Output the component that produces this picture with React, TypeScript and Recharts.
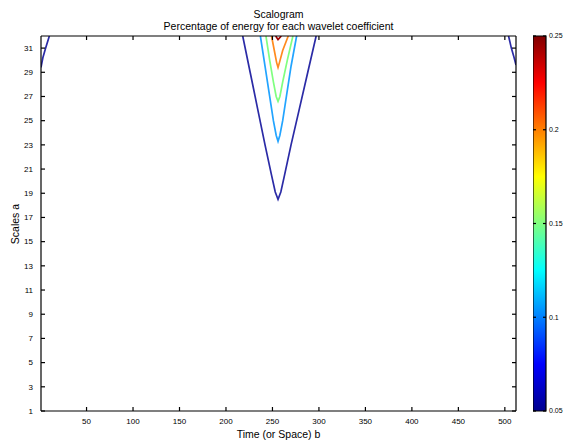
import { LineChart, Line, XAxis, YAxis, BarChart, Bar } from "recharts"

const X_TICKS = [50, 100, 150, 200, 250, 300, 350, 400, 450, 500]
const Y_TICKS = [1, 3, 5, 7, 9, 11, 13, 15, 17, 19, 21, 23, 25, 27, 29, 31]
const CBAR_TICKS = [0.05, 0.1, 0.15, 0.2, 0.25]

// contour lines, [time b, scale a]
const darkBlue = [[218, 32], [226, 29], [234, 26], [242, 23], [249, 20.5], [253, 19.1], [256, 18.5], [259, 19.1], [263, 20.5], [270, 23], [279, 26], [288, 29], [297, 32]]
const lightBlue = [[237, 32], [242, 29.5], [247, 27], [251, 25], [254, 23.8], [256, 23.3], [258, 23.8], [261, 25], [265, 27], [270, 29.5], [276, 32]]
const green = [[243, 32], [247, 30], [251, 28.2], [254, 27], [256, 26.6], [258, 27], [261, 28.2], [266, 30], [272, 32]]
const orange = [[249, 32], [252, 30.8], [254.5, 29.8], [256, 29.4], [257.5, 29.8], [261, 30.8], [267, 32]]
const darkRed = [[253.5, 32], [256, 31.7], [259.5, 32]]
const leftEdge = [[1, 29.4], [3, 30.2], [6, 31], [10, 32]]
const rightEdge = [[504, 32], [507, 31], [510, 30.2], [512, 29.6]]

const cbarData = [{ name: "c", range: [0.05, 0.25] }]

const toPts = (a: number[][]) => a.map(([x, y]) => ({ x, y }))

const contours = [
  { key: "l1", pts: darkBlue, colour: "#2b2ba6" },
  { key: "l2", pts: lightBlue, colour: "#22a4ff" },
  { key: "l3", pts: green, colour: "#80ff80" },
  { key: "l4", pts: orange, colour: "#ff8a1e" },
  { key: "l5", pts: darkRed, colour: "#a00000" },
  { key: "e1", pts: leftEdge, colour: "#2b2ba6" },
  { key: "e2", pts: rightEdge, colour: "#2b2ba6" },
]

// matlab style ticks: short line pointing into the plot, label outside
type TickProps = { x?: number; y?: number; payload?: { value: number } }

const BottomTick = ({ x = 0, y = 0, payload }: TickProps) => (
  <g>
    <line x1={x} x2={x} y1={y} y2={y - 4} stroke="#000" strokeWidth={1.2} />
    <text x={x} y={y + 10} dy="0.35em" textAnchor="middle" fontSize={8} fill="#000">{payload?.value}</text>
  </g>
)
const TopTick = ({ x = 0, y = 0 }: TickProps) => (
  <line x1={x} x2={x} y1={y} y2={y + 4} stroke="#000" strokeWidth={1.2} />
)
const LeftTick = ({ x = 0, y = 0, payload }: TickProps) => (
  <g>
    <line x1={x} x2={x + 4} y1={y} y2={y} stroke="#000" strokeWidth={1.2} />
    <text x={x - 8} y={y} dy="0.35em" textAnchor="end" fontSize={8} fill="#000">{payload?.value}</text>
  </g>
)
const RightTick = ({ x = 0, y = 0 }: TickProps) => (
  <line x1={x} x2={x - 4} y1={y} y2={y} stroke="#000" strokeWidth={1.2} />
)
const CbarTick = ({ x = 0, y = 0, payload }: TickProps) => (
  <g>
    <line x1={x} x2={x - 3} y1={y} y2={y} stroke="#000" strokeWidth={1.2} />
    <line x1={x - 13} x2={x - 10} y1={y} y2={y} stroke="#000" strokeWidth={1.2} />
    <text x={x + 3} y={y} dy="0.35em" textAnchor="start" fontSize={7} fill="#000">{payload?.value}</text>
  </g>
)

export default function App() {
  const xDom: [number, number] = [1, 512]
  const yDom: [number, number] = [1, 32]
  return (
    <div style={{ position: "absolute", left: 0, top: 0, width: 565, height: 443, background: "#fff", fontFamily: "Liberation Sans, Arial, sans-serif", color: "#000" }}>
      <div style={{ position: "absolute", left: 0, width: 557, top: 8, textAlign: "center", fontSize: 10.5, lineHeight: "12px" }}>
        Scalogram<br />Percentage of energy for each wavelet coefficient
      </div>
      <div style={{ position: "absolute", left: 41, width: 475, top: 428, textAlign: "center", fontSize: 10.5 }}>
        Time (or Space) b
      </div>
      <div style={{ position: "absolute", left: 15, top: 224, fontSize: 10.5, transform: "translate(-50%, -50%) rotate(-90deg)", whiteSpace: "nowrap" }}>
        Scales a
      </div>

      <div style={{ position: "absolute", left: 0, top: 0 }}>
        <LineChart width={565} height={443} margin={{ top: 6, right: 19, bottom: 0, left: 0 }}>
          <XAxis xAxisId="b" dataKey="x" type="number" domain={xDom} ticks={X_TICKS} allowDataOverflow height={32}
            tickLine={false} tickSize={0} tickMargin={0} tick={<BottomTick />} stroke="#000" strokeWidth={1.2} />
          <XAxis xAxisId="t" orientation="top" dataKey="x" type="number" domain={xDom} ticks={X_TICKS} allowDataOverflow height={30}
            tickLine={false} tickSize={0} tickMargin={0} tick={<TopTick />} stroke="#000" strokeWidth={1.2} />
          <YAxis yAxisId="l" type="number" domain={yDom} ticks={Y_TICKS} allowDataOverflow width={41}
            tickLine={false} tickSize={0} tickMargin={0} tick={<LeftTick />} stroke="#000" strokeWidth={1.2} />
          <YAxis yAxisId="r" orientation="right" type="number" domain={yDom} ticks={Y_TICKS} allowDataOverflow width={30}
            tickLine={false} tickSize={0} tickMargin={0} tick={<RightTick />} stroke="#000" strokeWidth={1.2} />
          {contours.map(c => (
            <Line key={c.key} xAxisId="b" yAxisId="l" data={toPts(c.pts)} dataKey="y" stroke={c.colour} strokeWidth={1.7}
              dot={false} isAnimationActive={false} type="linear" />
          ))}
          <Line xAxisId="t" yAxisId="r" data={[]} dataKey="y" stroke="none" dot={false} isAnimationActive={false} />
        </LineChart>
      </div>

      <div style={{ position: "absolute", left: 533, top: 0 }}>
        <BarChart width={32} height={443} data={cbarData} barCategoryGap={0} margin={{ top: 36, right: 0, bottom: 32, left: 0 }}>
          <defs>
            <linearGradient id="jet" x1="0" y1="1" x2="0" y2="0">
              <stop offset="0" stopColor="#00008f" />
              <stop offset="0.125" stopColor="#0000ff" />
              <stop offset="0.375" stopColor="#00ffff" />
              <stop offset="0.625" stopColor="#ffff00" />
              <stop offset="0.875" stopColor="#ff0000" />
              <stop offset="1" stopColor="#800000" />
            </linearGradient>
          </defs>
          <XAxis dataKey="name" hide />
          <YAxis yAxisId="cr" orientation="right" type="number" domain={[0.05, 0.25]} ticks={CBAR_TICKS} width={19}
            tickLine={false} tickSize={0} tickMargin={0} tick={<CbarTick />} axisLine={false} />
          <Bar yAxisId="cr" dataKey="range" fill="url(#jet)" stroke="#000" strokeWidth={1.2} isAnimationActive={false} />
        </BarChart>
      </div>
    </div>
  )
}
